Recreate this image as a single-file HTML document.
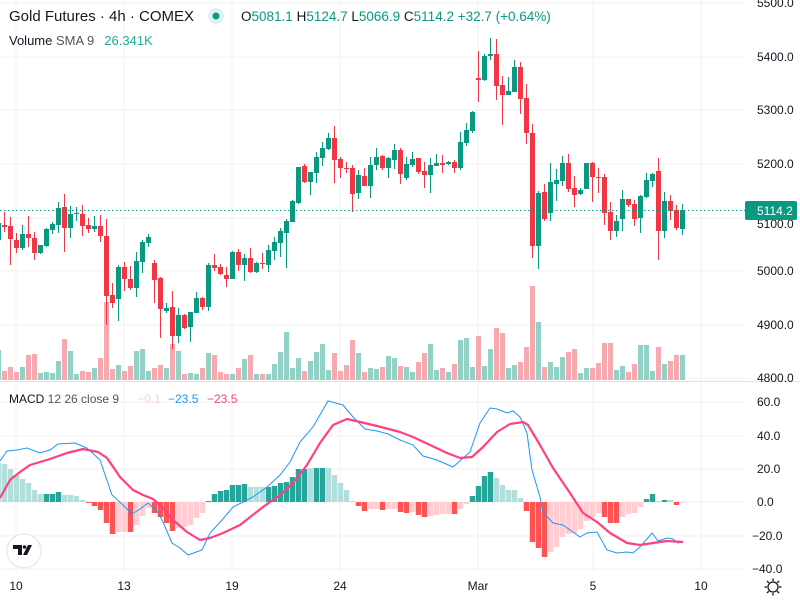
<!DOCTYPE html>
<html><head><meta charset="utf-8"><style>
body{margin:0;background:#fff;width:800px;height:600px;overflow:hidden;font-family:"Liberation Sans",sans-serif}
svg{display:block}
</style></head><body>
<svg id="s" width="800" height="600" xmlns="http://www.w3.org/2000/svg" font-family="Liberation Sans, sans-serif"></svg>
<script>
const C=[
['g',223,240,223,240],
['r',225,227,212,232],['r',226,239,217,265],['r',240,248,233,253],['g',234,248,225,250],['r',234,238,216,247],
['r',238,253,232,260],['g',245,253,245,254],['g',229,246,228,247],['g',224,230,222,234],['g',208,225,202,233],
['r',207,228,194,252],['g',214,228,206,238],['g',213,214,207,221],['r',214,226,205,236],['r',225,229,218,233],
['g',226,229,216,232],['r',226,236,215,242],['r',236,296,219,325],['r',295,303,283,308],['g',267,299,265,321],
['r',267,279,262,291],['r',279,288,266,290],['g',261,288,252,297],['g',242,262,240,273],['g',237,243,234,247],
['r',263,280,260,303],['r',278,309,277,338],['g',308,311,303,313],['r',307,336,291,349],['g',315,336,308,343],
['r',315,328,314,329],['g',312,327,312,342],['g',298,313,292,313],['r',298,307,297,310],['g',265,307,263,311],
['r',265,268,254,271],['r',267,274,264,275],['r',275,279,267,287],['g',252,279,251,279],['r',252,265,249,271],
['g',258,265,254,281],['r',258,272,248,273],['g',263,272,262,273],['r',263,264,253,269],['g',250,265,245,272],
['g',242,251,237,260],['g',231,243,228,257],['g',221,233,219,268],['g',201,222,200,222],['g',167,203,167,204],
['r',166,182,164,183],['g',172,182,172,195],['g',157,173,152,183],['g',148,158,142,166],['g',138,149,133,150],
['r',138,160,126,183],['r',159,168,157,178],['r',168,169,162,173],
['r',168,194,165,212],['g',175,193,170,199],['r',176,186,168,186],['g',165,186,157,198],['g',157,165,148,170],
['r',156,168,155,170],['g',158,168,157,178],['g',150,160,144,169],['r',150,174,148,184],['g',164,178,157,180],
['g',159,165,152,167],['r',158,172,158,174],['r',171,175,162,188],['g',165,175,158,193],['g',163,166,154,166],
['r',163,165,155,173],['g',162,164,161,165],['r',162,168,160,173],['g',142,168,132,170],['g',130,143,123,146],
['g',112,131,111,133],['r',78,80,51,102],['g',56,80,54,81],['g',54,56,38,60],['r',54,86,39,100],
['r',85,95,76,125],['g',91,95,77,95],['g',67,92,60,92],['r',67,99,62,114],['r',98,133,84,144],
['r',133,246,124,258],['g',193,246,191,269],['r',192,219,184,221],['g',182,213,163,221],['g',180,184,169,201],
['g',163,181,156,186],['r',163,189,154,192],['r',188,195,176,207],['g',190,194,188,195],['g',163,189,163,189],
['r',163,177,162,202],['r',177,178,168,193],['r',177,213,174,225],['r',212,231,202,240],['g',221,231,215,237],
['g',199,219,190,231],['r',199,205,199,207],['r',204,219,200,226],['g',196,218,195,233],['g',180,197,173,198],
['g',174,181,173,187],['r',171,231,158,260],['g',201,231,192,238],['r',201,211,195,220],['r',210,228,205,230],
['g',210,229,204,235]];
const V=[350,371,367,372,367,355,354,373,372,373,361,339,351,374,371,372,368,358,302,369,365,371,366,351,349,371,368,365,368,344,351,374,373,374,368,353,355,372,374,374,368,359,355,374,374,374,364,352,332,368,358,371,361,352,344,370,353,371,365,
340,353,372,368,369,367,356,358,366,367,372,362,353,344,370,368,372,364,340,338,367,336,366,349,328,333,368,365,362,347,286,322,367,362,367,357,352,349,373,368,368,363,343,343,370,366,372,364,345,345,371,347,364,361,355,355];
const H="463g 464g 469g 475g 479g 483g 490g 494g 494G 494G 492G 495g 495g 496g 500g 503R 506R 510R 523R 534R 532r 532r 532R 525r 516r 508r 513R 517R 523R 531R 528r 527r 525r 518r 513r 501G 494G 491G 490G 485G 485G 484G 487g 487g 487g 487G 486G 483G 482G 477G 469G 469G 468g 468G 468G 468g 475g 483g 490g 501g 506R 511R 509r 509r 510R 509r 509r 512R 513R 512r 515R 517R 516r 515r 514r 514r 514R 509r 504r 496G 486G 476G 472G 478g 485g 490g 490g 498g 511R 542R 548R 557R 552r 547r 537r 534r 533r 529r 521r 517r 513r 517R 523R 523R 517r 514r 513r 507r 499G 494G 501g 500G 500g 505R 503r".split(' ');
const blue=[[0,461],[7,451],[17,450],[27,448],[40,453],[50,450],[58,444],[75,443],[87,448],[100,460],[112,495],[123,505],[132,514],[140,509],[148,503],[157,511],[163,522],[172,543],[180,548],[188,555],[202,550],[210,533],[222,520],[233,507],[253,497],[267,487],[280,475],[290,462],[300,442],[313,427],[328,401],[343,405],[353,417],[365,429],[377,431],[388,434],[400,440],[413,445],[423,456],[437,460],[453,467],[470,452],[480,423],[490,408],[497,409],[507,413],[513,411],[520,417],[527,433],[532,470],[540,497],[543,512],[553,523],[563,525],[580,537],[587,533],[597,532],[607,550],[617,553],[627,552],[633,553],[640,547],[652,533],[658,541],[667,538],[673,539],[678,543],[683,542]];
const pink=[[0,498],[10,480],[20,472],[30,465],[50,459],[67,453],[83,449],[98,452],[107,458],[120,477],[133,490],[143,495],[153,499],[163,508],[173,520],[187,532],[200,540],[210,538],[223,533],[240,525],[263,507],[280,495],[293,483],[307,465],[320,443],[333,425],[347,419],[360,422],[377,426],[400,432],[413,437],[430,445],[447,453],[460,458],[472,457],[483,447],[497,432],[510,424],[523,422],[528,425],[540,445],[553,468],[570,493],[583,513],[597,522],[610,533],[627,543],[640,545],[653,543],[667,541],[683,542]];
let o='';
const add=s=>o+=s;
[3,57,110,164,218,271,325,378].forEach(y=>add(`<line x1="0" x2="745" y1="${y}" y2="${y}" stroke="#f0f1f3"/>`));
[402,436,469,502,536,569].forEach(y=>add(`<line x1="0" x2="745" y1="${y}" y2="${y}" stroke="#f0f1f3"/>`));
[16,124,232,340,478,593,701].forEach(x=>add(`<line x1="${x}" x2="${x}" y1="0" y2="572" stroke="#f0f1f3"/>`));
const X=i=>4.5+6*(i-1);
V.forEach((v,i)=>{const c=C[i][0]=='g'?'#92d2c6':'#f8a9b0';add(`<rect x="${X(i)-2.5}" y="${v}" width="5" height="${380-v}" fill="${c}"/>`)});
C.forEach((c,i)=>{const col=c[0]=='g'?'#089981':'#f23645';const x=X(i);
add(`<line x1="${x}" x2="${x}" y1="${c[3]}" y2="${c[4]}" stroke="${col}" stroke-width="1"/>`);
add(`<rect x="${x-2.5}" y="${c[1]}" width="5" height="${Math.max(1,c[2]-c[1])}" fill="${col}"/>`)});
add(`<line x1="0" x2="745" y1="210.5" y2="210.5" stroke="#089981" stroke-dasharray="1.5 2.5"/>`);
add(`<line x1="0" x2="800" y1="381.5" y2="381.5" stroke="#e0e3eb"/>`);
const hc={G:'#26a69a',g:'#b2dfdb',R:'#ff5252',r:'#ffcdd2'};
H.forEach((h,k)=>{const y=parseFloat(h),t=h.slice(-1),x=X(k);const y1=Math.min(y,502),y2=Math.max(y,502);
add(`<rect x="${x-2.7}" y="${y1}" width="5.4" height="${Math.max(1,y2-y1)}" fill="${hc[t]}"/>`)});
add(`<polyline points="${blue.map(p=>p.join(',')).join(' ')}" fill="none" stroke="#2196f3" stroke-width="1"/>`);
add(`<polyline points="${pink.map(p=>p.join(',')).join(' ')}" fill="none" stroke="#ff4081" stroke-width="2.2" stroke-linejoin="round"/>`);
[['5500.0',3],['5400.0',57],['5300.0',110],['5200.0',164],['5000.0',271],['4900.0',325],['4800.0',378]].forEach(([t,y])=>add(`<text x="757" y="${y+4}" font-size="12" fill="#131722">${t}</text>`));
add(`<text x="757" y="228" font-size="12" fill="#131722">5100.0</text>`);
add(`<rect x="745" y="201" width="52" height="19" rx="2" fill="#089981"/><text x="757" y="215" font-size="12" fill="#fff">5114.2</text>`);
[['60.0',402,757],['40.0',436,757],['20.0',469,757],['0.0',502,757],['\u221220.0',536,752],['\u221240.0',569,752]].forEach(([t,y,x])=>add(`<text x="${x}" y="${y+4}" font-size="12" fill="#131722">${t}</text>`));
[['10',16],['13',124],['19',232],['24',340],['Mar',478],['5',593],['10',701]].forEach(([t,x])=>add(`<text x="${x}" y="590" font-size="12" fill="#131722" text-anchor="middle">${t}</text>`));
add(`<text x="9" y="21" font-size="15" fill="#131722">Gold Futures · 4h · COMEX</text>`);
add(`<circle cx="216" cy="16" r="8" fill="#e0f2ef"/><circle cx="216" cy="16" r="3.5" fill="#089981"/>`);
add(`<text x="241" y="21" font-size="13.5" fill="#131722">O<tspan fill="#089981">5081.1</tspan> H<tspan fill="#089981">5124.7</tspan> L<tspan fill="#089981">5066.9</tspan> C<tspan fill="#089981">5114.2</tspan> <tspan fill="#089981">+32.7 (+0.64%)</tspan></text>`);
add(`<text x="9" y="45" font-size="13" fill="#131722">Volume <tspan fill="#555">SMA 9</tspan><tspan dx="10" fill="#22ab94">26.341K</tspan></text>`);
add(`<text x="9" y="403" font-size="12" fill="#131722">MACD <tspan fill="#555">12 26 close 9</tspan></text>`);
add(`<text x="137" y="403" font-size="12" fill="#ffcdd2">\u22120.1</text><text x="168" y="403" font-size="12" fill="#2196f3">\u221223.5</text><text x="207" y="403" font-size="12" fill="#ff4081">\u221223.5</text>`);
add(`<circle cx="24" cy="551" r="17" fill="#fff" stroke="#e0e3eb"/><path d="M13 545h9v10h-4v-6h-5z M23 555l5-10h4l-5 10z" fill="#131722"/><circle cx="24.5" cy="547" r="1.8" fill="#131722"/>`);
add(`<circle cx="773" cy="587" r="5" fill="none" stroke="#131722" stroke-width="1.3"/>`);
for(let a=0;a<8;a++){const r=a*Math.PI/4;add(`<line x1="${773+6*Math.cos(r)}" y1="${587+6*Math.sin(r)}" x2="${773+8.5*Math.cos(r)}" y2="${587+8.5*Math.sin(r)}" stroke="#131722" stroke-width="1.3"/>`)}
document.getElementById('s').innerHTML=o;
</script>
</body></html>
